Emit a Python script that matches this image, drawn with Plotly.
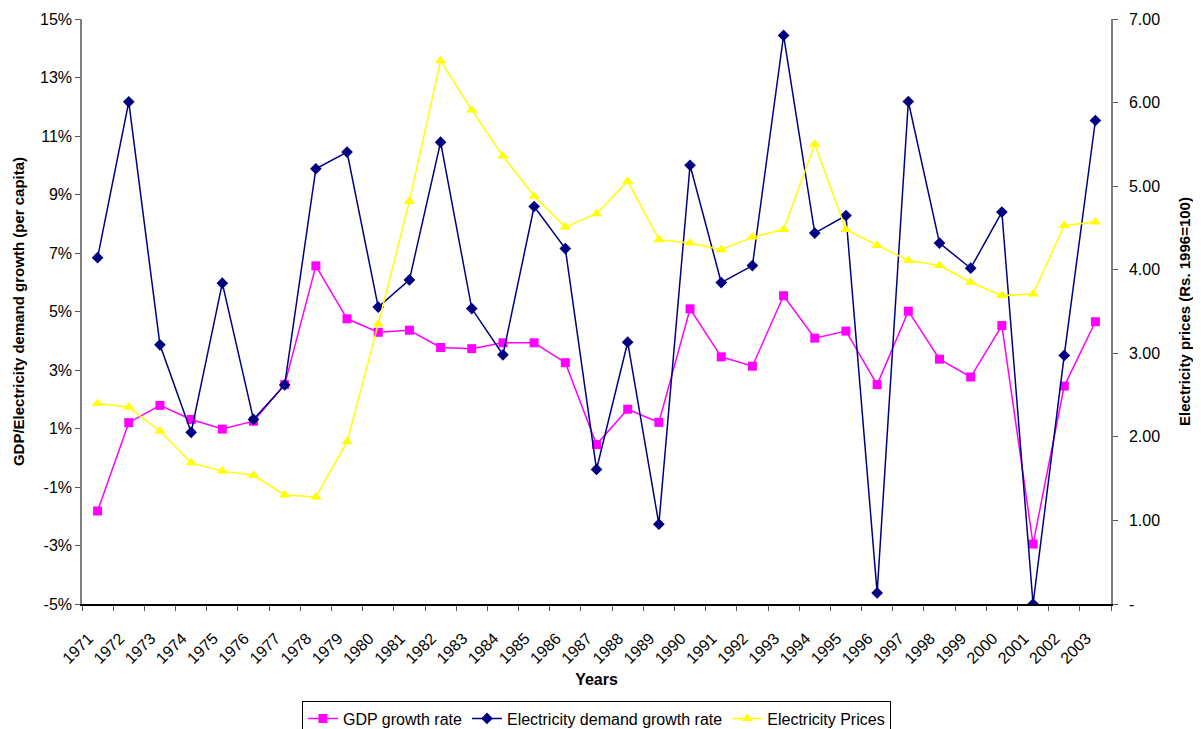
import plotly.graph_objects as go

# Years on the category axis
years = [str(y) for y in range(1971, 2004)]

# GDP growth rate (%), left axis
gdp_growth = [-1.82, 1.20, 1.79, 1.31, 0.98, 1.25, 2.50, 6.56, 4.75, 4.29,
              4.36, 3.77, 3.73, 3.93, 3.93, 3.25, 0.45, 1.66, 1.21, 5.09,
              3.45, 3.13, 5.54, 4.09, 4.33, 2.50, 5.01, 3.37, 2.76, 4.52,
              -2.95, 2.45, 4.65]

# Electricity demand growth rate (%), left axis
demand_growth = [6.84, 12.17, 3.86, 0.87, 5.97, 1.31, 2.49, 9.88, 10.45, 5.15,
                 6.08, 10.79, 5.10, 3.52, 8.59, 7.15, -0.40, 3.95, -2.27, 10.00,
                 5.99, 6.57, 14.44, 7.68, 8.28, -4.62, 12.18, 7.34, 6.48, 8.40,
                 -5.00, 3.50, 11.53]

# Electricity prices (Rs. 1996=100), right axis
prices = [2.40, 2.355, 2.07, 1.69, 1.59, 1.54, 1.305, 1.28, 1.94, 3.35,
          4.82, 6.50, 5.91, 5.36, 4.88, 4.51, 4.67, 5.06, 4.36, 4.32,
          4.24, 4.39, 4.48, 5.50, 4.48, 4.29, 4.11, 4.05, 3.85, 3.69,
          3.71, 4.53, 4.57]

left_ticks = [-5, -3, -1, 1, 3, 5, 7, 9, 11, 13, 15]
left_labels = ["-5%", "-3%", "-1%", "1%", "3%", "5%", "7%", "9%", "11%", "13%", "15%"]
right_ticks = [0, 1, 2, 3, 4, 5, 6, 7]
right_labels = ["-", "1.00", "2.00", "3.00", "4.00", "5.00", "6.00", "7.00"]

font_name = "Liberation Sans, Arial, sans-serif"
tick_gray = "#555555"

fig = go.Figure()

fig.add_trace(go.Scatter(
    x=years, y=gdp_growth, name="GDP growth rate",
    mode="lines+markers",
    line=dict(color="#FF00FF", width=1.5),
    marker=dict(symbol="square", size=9, color="#FF00FF")))

fig.add_trace(go.Scatter(
    x=years, y=demand_growth, name="Electricity demand growth rate",
    mode="lines+markers",
    line=dict(color="#000080", width=1.5),
    marker=dict(symbol="diamond", size=9, color="#000080")))

fig.add_trace(go.Scatter(
    x=years, y=prices, name="Electricity Prices", yaxis="y2",
    mode="lines+markers",
    line=dict(color="#FFFF00", width=1.5),
    marker=dict(symbol="triangle-up", size=10, color="#FFFF00")))

# inner halves of the Excel "cross" tick marks, drawn by extra overlay axes
n = len(years)
boundaries = [i - 0.5 for i in range(n + 1)]
inner = dict(ticks="inside", ticklen=5, tickcolor=tick_gray, showticklabels=False,
             showline=False, showgrid=False, zeroline=False, automargin=False)

# page body adds an 8px margin, so the figure is a bit smaller than the window
fig.update_layout(
    width=1185, height=721,
    autosize=False,
    margin=dict(l=74, r=82, t=11, b=125, autoexpand=False),
    paper_bgcolor="white",
    plot_bgcolor="white",
    font=dict(family=font_name, size=16, color="black"),
    showlegend=True,
    legend=dict(orientation="h", x=0.5, xanchor="center",
                y=-0.165, yanchor="top",
                bordercolor="black", borderwidth=1,
                font=dict(size=16), itemwidth=30,
                tracegroupgap=0),
    xaxis=dict(
        type="category",
        range=[-0.5, n - 0.5],
        automargin=False,
        title=dict(text="<b>Years</b>", font=dict(size=16), standoff=8),
        tickangle=-45,
        ticks="outside", tickson="boundaries", ticklen=5,
        ticklabelstandoff=17, ticklabelshift=-9,
        tickcolor=tick_gray,
        showline=True, linecolor="black", linewidth=1.5,
        showgrid=False, zeroline=False,
        tickfont=dict(size=16)),
    xaxis2=dict(overlaying="x", anchor="y", range=[-0.5, n - 0.5],
                tickmode="array", tickvals=boundaries, **inner),
    yaxis=dict(
        title=dict(text="<b>GDP/Electricity demand growth (per capita)</b>",
                   font=dict(size=15), standoff=12),
        range=[-5, 15],
        automargin=False,
        tickvals=left_ticks, ticktext=left_labels,
        ticks="outside", ticklen=5, tickcolor=tick_gray,
        showline=True, linecolor="#808080", linewidth=1.5,
        showgrid=False, zeroline=False,
        tickfont=dict(size=16)),
    yaxis2=dict(
        title=dict(text="<b>Electricity prices (Rs. 1996=100)</b>",
                   font=dict(size=15), standoff=22),
        overlaying="y", side="right",
        range=[0, 7],
        automargin=False,
        tickvals=right_ticks, ticktext=right_labels,
        ticks="outside", ticklen=5, tickcolor=tick_gray,
        ticklabelstandoff=8,
        showline=True, linecolor="#808080", linewidth=1.5,
        showgrid=False, zeroline=False,
        tickfont=dict(size=16)),
    yaxis3=dict(overlaying="y", side="left", anchor="x", range=[-5, 15],
                tickmode="array", tickvals=left_ticks, **inner),
    yaxis4=dict(overlaying="y", side="right", anchor="x", range=[0, 7],
                tickmode="array", tickvals=right_ticks, **inner),
)

fig.write_html("out.html")
